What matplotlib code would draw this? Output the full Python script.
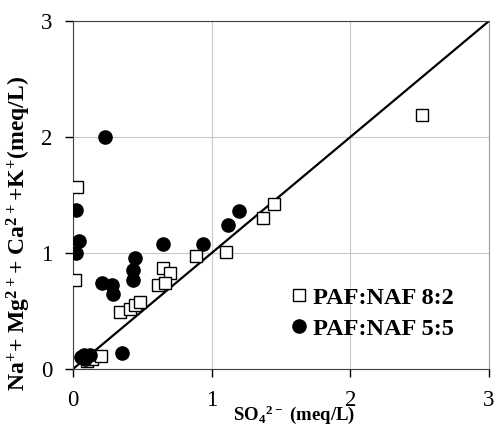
import numpy as np
import matplotlib.pyplot as plt

plt.rcParams['font.family'] = 'Liberation Serif'
plt.rcParams['mathtext.default'] = 'regular'

# PAF:NAF 8:2 (cuadrados abiertos)
x_82 = [2.52, 1.45, 1.37, 1.10, 0.89, 0.03, 0.015, 0.65, 0.70, 0.61, 0.66,
        0.34, 0.41, 0.45, 0.48, 0.10, 0.14, 0.20]
y_82 = [2.19, 1.42, 1.30, 1.01, 0.97, 1.57, 0.77, 0.87, 0.83, 0.72, 0.74,
        0.49, 0.52, 0.55, 0.58, 0.07, 0.09, 0.11]

# PAF:NAF 5:5 (circulos llenos)
x_55 = [0.23, 0.02, 0.04, 0.02, 0.65, 0.45, 0.43, 0.43, 0.21, 0.28, 0.29,
        0.355, 0.94, 1.12, 1.20, 0.06, 0.08, 0.10, 0.12, 0.09]
y_55 = [2.00, 1.37, 1.10, 1.00, 1.08, 0.96, 0.85, 0.77, 0.74, 0.72, 0.65,
        0.14, 1.08, 1.24, 1.36, 0.10, 0.12, 0.11, 0.12, 0.09]

ticks = [0, 1, 2, 3]

fig = plt.figure(figsize=(4.97, 4.25), dpi=100)
ax = fig.add_axes([0.1469, 0.1318, 0.8371, 0.8188])

ax.plot([0, 3], [0, 3], color='black', lw=1.6, zorder=2)
ax.plot(x_82, y_82, 's', ms=9, mfc='white', mec='black', mew=1.0,
        ls='none', label='PAF:NAF 8:2', zorder=3)
ax.plot(x_55, y_55, 'o', ms=9.5, color='black',
        ls='none', label='PAF:NAF 5:5', zorder=4)

ax.set_xlim(0, 3)
ax.set_ylim(0, 3)
ax.set_xticks(ticks)
ax.set_yticks(ticks)
ax.tick_params(labelsize=16.5, direction='out', length=6, width=1, pad=9)
ax.grid(True, color='#c8c8c8', lw=0.8)

ax.spines['top'].set_color('#404040')
ax.spines['right'].set_color('#a0a0a0')
ax.spines['left'].set_color('#404040')
ax.spines['bottom'].set_color('#404040')

ax.set_xlabel('SO$_4$$^{2-}$ (meq/L)', fontsize=13.5, fontweight='bold')
ax.xaxis.set_label_coords(0.531, -0.1)
ax.set_ylabel('Na$^{+}$+ Mg$^{2+}$+ Ca$^{2+}$+K$^{+}$(meq/L)', fontsize=17,
              fontweight='bold')
ax.yaxis.set_label_coords(-0.096, 0.39)

leg = ax.legend(loc='lower right', bbox_to_anchor=(0.969, 0.021), frameon=False,
                prop={'size': 17.5, 'weight': 'bold'}, handlelength=0.6,
                handletextpad=0.3, labelspacing=0.38)

fig.savefig('out.png', dpi=100)
